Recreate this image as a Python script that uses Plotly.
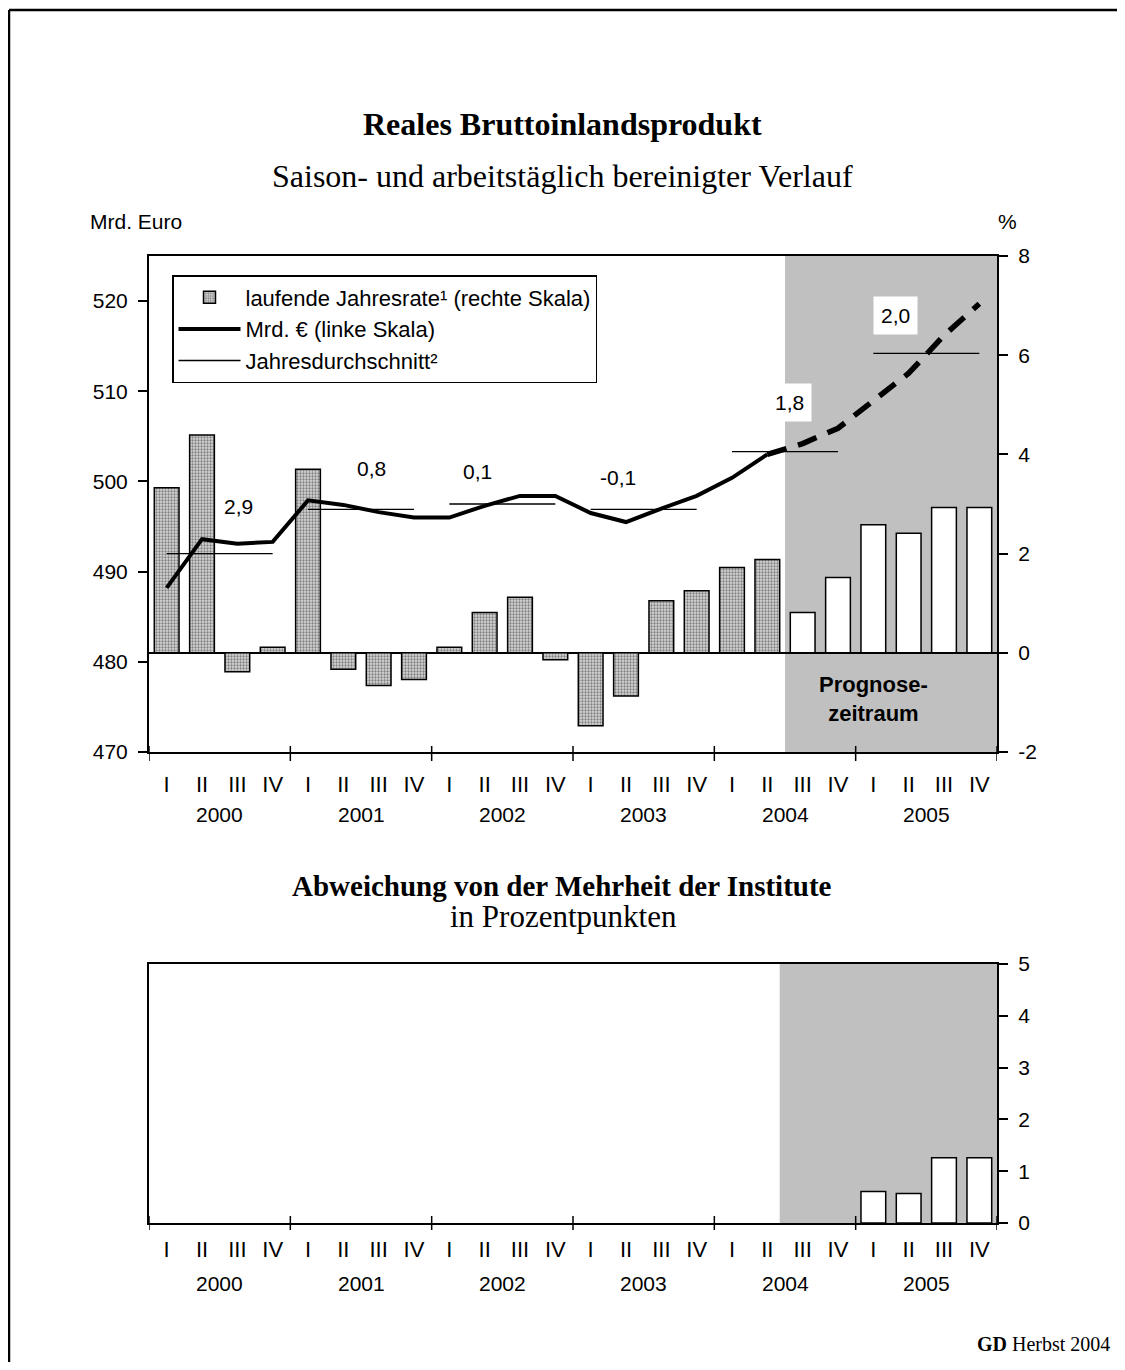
import plotly.graph_objects as go

# ---------------- data ----------------
years = ["2000", "2001", "2002", "2003", "2004", "2005"]
quarters = ["I", "II", "III", "IV"]

# laufende Jahresrate (%), right scale; 2000Q1 .. 2004Q2 actual, 2004Q3 .. 2005Q4 forecast
rate_actual = [3.33, 4.39, -0.38, 0.11, 3.70, -0.33, -0.66, -0.54,
               0.11, 0.81, 1.12, -0.14, -1.47, -0.87, 1.05, 1.25,
               1.72, 1.88]
rate_forecast = [0.81, 1.52, 2.58, 2.41, 2.93, 2.93]

# Mrd. Euro, left scale
gdp_actual = [488.2, 493.6, 493.1, 493.3, 497.9, 497.4, 496.6, 496.0,
              496.0, 497.3, 498.4, 498.4, 496.5, 495.5, 497.0, 498.4,
              500.4, 503.0]
gdp_forecast = [504.2, 505.9, 509.0, 512.0, 516.2, 519.7]

# Jahresdurchschnitt (Mrd. Euro)
annual_avg = [492.0, 496.9, 497.5, 496.9, 503.3, 514.2]
annual_rate_labels = ["2,9", "0,8", "0,1", "-0,1", "1,8", "2,0"]

# Abweichung von der Mehrheit der Institute (Prozentpunkte), 2005 Q1..Q4
deviation = [0.61, 0.57, 1.26, 1.26]

# tick values / labels
left_ticks = [470, 480, 490, 500, 510, 520]
right_ticks = [-2, 0, 2, 4, 6, 8]
right_ticktext = ["-2", "0", "2", "4", "6", "8"]
dev_ticks = [0, 1, 2, 3, 4, 5]

# ---------------- derived positions ----------------
nq = len(years) * 4
xc = [i + 0.5 for i in range(nq)]
n_act = len(rate_actual)
x_act = xc[:n_act]
x_fc = xc[n_act:]
qlabels = quarters * len(years)

avg_x, avg_y = [], []
for k, v in enumerate(annual_avg):
    avg_x += [4 * k + 0.5, 4 * k + 3.5, None]
    avg_y += [v, v, None]

dev_x = xc[nq - len(deviation):]

# page is 1125x1370; the html body adds an 8px margin on each side
OFF = 8
W, H = 1125 - 2 * OFF, 1370 - 2 * OFF
def px(x):
    return (x - OFF) / W
def py(y):
    return 1 - (y - OFF) / H

X0, X1 = px(149), px(997)
T_TOP, T_BOT = py(256), py(752)
B_TOP, B_BOT = py(964), py(1223)

ARIAL = "Liberation Sans, Arial, sans-serif"
SERIF = "Liberation Serif, Times New Roman, serif"
FS = 21

fig = go.Figure()

pattern = dict(shape=".", fgcolor="#2a2a2a", bgcolor="#d6d6d6", size=3, solidity=0.45)

fig.add_trace(go.Bar(
    x=x_act, y=rate_actual, width=0.7, name="laufende Jahresrate¹ (rechte Skala)",
    marker=dict(color="#999999", pattern=pattern, line=dict(color="black", width=1.5)),
    xaxis="x", yaxis="y", legendgroup="a"))
fig.add_trace(go.Bar(
    x=x_fc, y=rate_forecast, width=0.7, showlegend=False,
    marker=dict(color="white", line=dict(color="black", width=1.5)),
    xaxis="x", yaxis="y"))

fig.add_trace(go.Scatter(
    x=x_act, y=gdp_actual, mode="lines", name="Mrd. € (linke Skala)",
    line=dict(color="black", width=4), xaxis="x", yaxis="y2", legendgroup="b"))
fig.add_trace(go.Scatter(
    x=[x_act[-1]] + x_fc, y=[gdp_actual[-1]] + gdp_forecast, mode="lines", showlegend=False,
    line=dict(color="black", width=5.5, dash="20px,12px"), xaxis="x", yaxis="y2"))
fig.add_trace(go.Scatter(
    x=avg_x, y=avg_y, mode="lines", name="Jahresdurchschnitt²",
    line=dict(color="black", width=1.3), xaxis="x", yaxis="y2", legendgroup="c"))

fig.add_trace(go.Bar(
    x=dev_x, y=deviation, width=0.7, showlegend=False,
    marker=dict(color="white", line=dict(color="black", width=1.5)),
    xaxis="x2", yaxis="y3"))

axis_font = dict(family=ARIAL, size=FS, color="black")
q_font = dict(family=ARIAL, size=22, color="black")

ytick_common = dict(ticks="outside", ticklen=9, tickwidth=1.5, tickcolor="black",
                    tickfont=axis_font, showline=True, linecolor="black", linewidth=2,
                    showgrid=False, ticklabelstandoff=6, automargin=False)

fig.update_layout(
    width=W, height=H,
    margin=dict(l=0, r=0, t=0, b=0, pad=0, autoexpand=False),
    paper_bgcolor="white", plot_bgcolor="rgba(0,0,0,0)",
    barmode="overlay",
    showlegend=True,
    legend=dict(x=px(172), y=py(275), xanchor="left", yanchor="top",
                bgcolor="white", bordercolor="black", borderwidth=1.5,
                font=dict(family=ARIAL, size=22, color="black"),
                traceorder="grouped", tracegroupgap=0, itemwidth=62),
    xaxis=dict(domain=[X0, X1], range=[0, nq], anchor="y",
               tickmode="array", tickvals=xc, ticktext=qlabels,
               ticks="outside", ticklen=12, tickcolor="rgba(0,0,0,0)",
               tickfont=q_font, showline=True, linecolor="black", linewidth=2,
               mirror=True, showgrid=False, zeroline=False, automargin=False),
    yaxis=dict(domain=[T_BOT, T_TOP], range=[-2, 8], side="right", anchor="x",
               tickmode="array", tickvals=right_ticks, ticktext=right_ticktext,
               zeroline=True, zerolinecolor="black", zerolinewidth=1.5, **ytick_common),
    yaxis2=dict(range=[470, 525], overlaying="y", side="left", anchor="x",
                tickmode="array", tickvals=left_ticks,
                zeroline=False, **ytick_common),
    xaxis2=dict(domain=[X0, X1], range=[0, nq], anchor="y3",
                tickmode="array", tickvals=xc, ticktext=qlabels,
                ticks="outside", ticklen=6, tickcolor="rgba(0,0,0,0)",
                tickfont=q_font, showline=True, linecolor="black", linewidth=2,
                mirror=True, showgrid=False, zeroline=False, automargin=False),
    yaxis3=dict(domain=[B_BOT, B_TOP], range=[0, 5], side="right", anchor="x2",
                tickmode="array", tickvals=dev_ticks,
                mirror=True, zeroline=False, **ytick_common),
)

shapes = []
# forecast shading
shapes.append(dict(type="rect", xref="x", yref="y domain", x0=18, x1=nq, y0=0, y1=1,
                   fillcolor="#c0c0c0", line=dict(width=0), layer="below"))
shapes.append(dict(type="rect", xref="x2", yref="y3 domain", x0=17.85, x1=nq, y0=0, y1=1,
                   fillcolor="#c0c0c0", line=dict(width=0), layer="below"))
# year boundary ticks
for k in range(len(years) + 1):
    shapes.append(dict(type="line", xref="x", yref="paper", x0=4 * k, x1=4 * k,
                       y0=T_BOT - 9 / H, y1=T_BOT + 6 / H, line=dict(color="black", width=1.5)))
    shapes.append(dict(type="line", xref="x2", yref="paper", x0=4 * k, x1=4 * k,
                       y0=B_BOT - 7 / H, y1=B_BOT + 7 / H, line=dict(color="black", width=1.5)))
# outer frame (left and top edges)
shapes.append(dict(type="line", xref="paper", yref="paper", x0=px(9), x1=1.0,
                   y0=py(10), y1=py(10), line=dict(color="black", width=2.5)))
shapes.append(dict(type="line", xref="paper", yref="paper", x0=px(9), x1=px(9),
                   y0=0, y1=py(10), line=dict(color="black", width=2.5)))
fig.update_layout(shapes=shapes)

ann = []
def txt(text, x, y, size, family=SERIF, xanchor="center", **kw):
    ann.append(dict(text=text, x=px(x), y=py(y), xref="paper", yref="paper",
                    xanchor=xanchor, yanchor="middle", showarrow=False,
                    font=dict(family=family, size=size, color="black"), **kw))

txt("<b>Reales Bruttoinlandsprodukt</b>", 562, 124, 32)
txt("Saison- und arbeitstäglich bereinigter Verlauf", 562, 176, 32)
txt("Mrd. Euro", 88, 222, FS, family=ARIAL, xanchor="left")
txt("%", 1007, 222, FS, family=ARIAL)
txt("<b>Abweichung von der Mehrheit der Institute</b>", 562, 886, 29)
txt("in Prozentpunkten", 563, 916, 31)
txt("<b>GD</b> Herbst 2004", 1112, 1344, 20, xanchor="right")

# year labels
for k, yr in enumerate(years):
    ann.append(dict(text=yr, x=4 * k + 2, y=T_BOT, xref="x", yref="paper", yshift=-62,
                    showarrow=False, yanchor="middle", font=axis_font))
    ann.append(dict(text=yr, x=4 * k + 2, y=B_BOT, xref="x2", yref="paper", yshift=-60,
                    showarrow=False, yanchor="middle", font=axis_font))

# annual growth labels (layout positions in data coords)
label_pos = [(2.52, 497.2), (6.31, 501.4), (9.31, 501.1), (13.27, 500.4), (18.12, 508.8), (21.14, 518.4)]
for k, (lab, (lx, ly)) in enumerate(zip(annual_rate_labels, label_pos)):
    boxed = k >= 4
    ann.append(dict(text=lab, x=lx, y=ly, xref="x", yref="y2", showarrow=False,
                    font=dict(family=ARIAL, size=FS, color="black"),
                    bgcolor="white" if boxed else "rgba(0,0,0,0)",
                    borderpad=7 if boxed else 0))

ann.append(dict(text="<b>Prognose-<br>zeitraum</b>", x=20.5, y=-0.93, xref="x", yref="y",
                showarrow=False, font=dict(family=ARIAL, size=22, color="black"),
                align="center"))

fig.update_layout(annotations=ann)

fig.write_html("out.html")
